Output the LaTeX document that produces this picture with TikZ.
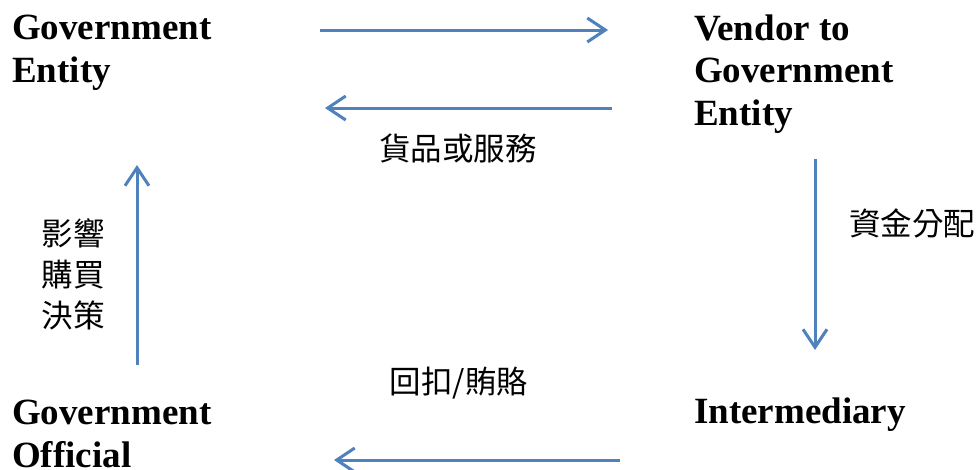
\documentclass[tikz,border=0pt]{standalone}
\usepackage{fontspec}
\setmainfont{Liberation Serif}
\newfontfamily\cjk{Noto Sans CJK TC}
\usetikzlibrary{arrows.meta}
\definecolor{arrowblue}{HTML}{4F81BD}
\tikzset{
  party/.style={anchor=base west, align=left, inner sep=0pt, font=\fontsize{37}{42.5}\selectfont\bfseries},
  cjklabel/.style={anchor=center, align=center, inner sep=0pt, font=\fontsize{31.5}{41}\selectfont\cjk},
  flow/.style={draw=arrowblue, line width=3pt, -{Straight Barb[length=18pt,width=24pt]}},
}
\begin{document}
\begin{tikzpicture}[x=1pt,y=1pt]
\useasboundingbox (0,0) rectangle (979,-469);
% parties (base anchor = baseline of last line)
\node[party] (ge) at (12,-82) {Government\\Entity};
\node[party] (ven) at (694,-125) {Vendor to\\Government\\Entity};
\node[party] (go) at (12,-467) {Government\\Official};
\node[party] (im) at (694,-423) {Intermediary};
% arrow end points
\coordinate (a1s) at (320,-30);
\coordinate (a1e) at (608,-30);
\coordinate (a2s) at (612,-108);
\coordinate (a2e) at (325,-108);
\coordinate (a3s) at (815,-159);
\coordinate (a3e) at (815,-350);
\coordinate (a4s) at (620,-460);
\coordinate (a4e) at (334,-460);
\coordinate (a5s) at (137,-365);
\coordinate (a5e) at (137,-165);
\draw[flow] (a1s) -- (a1e);
\draw[flow] (a2s) -- (a2e);
\draw[flow] (a3s) -- (a3e);
\draw[flow] (a4s) -- (a4e);
\draw[flow] (a5s) -- (a5e);
% labels
\node[cjklabel] (goods) at (458,-148) {貨品或服務};
\node[cjklabel, anchor=west] (funds) at (849,-223) {資金分配};
\node[cjklabel] (bribe) at (459,-383) {回扣/賄賂};
\node[cjklabel] (infl) at (73,-274) {影響\\購買\\決策};
\end{tikzpicture}
\end{document}
